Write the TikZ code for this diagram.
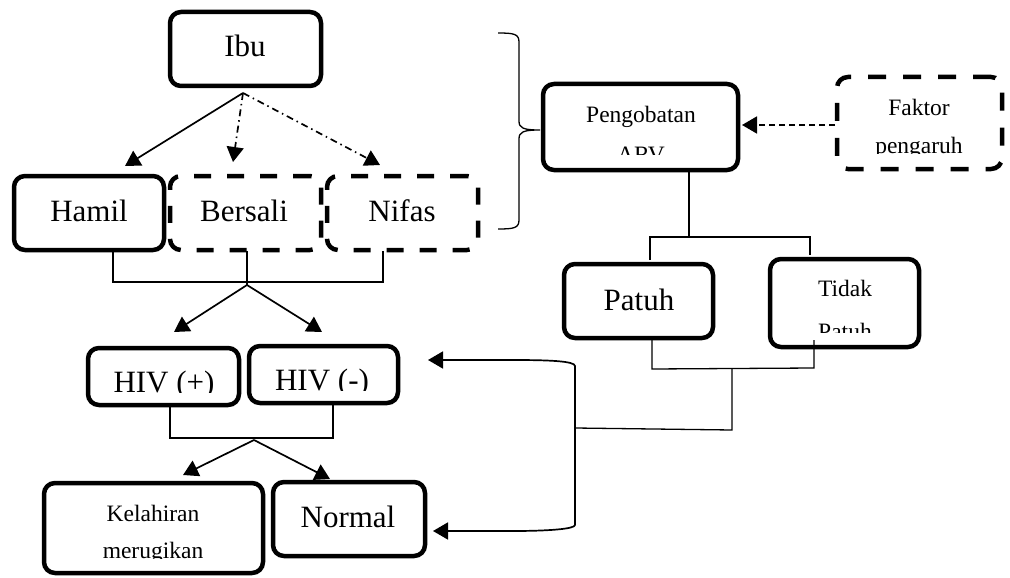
\documentclass[tikz,border=0pt]{standalone}
\usepackage{fontspec}
\setmainfont{Liberation Serif}
\usetikzlibrary{arrows.meta,calc}
\begin{document}
\begin{tikzpicture}[x=1pt,y=-1pt,
  box/.style={draw, line width=4.5pt, rounded corners=11pt, inner sep=0pt},
  dbox/.style={box, dash pattern=on 17pt off 16pt},
  big/.style={font=\fontsize{31}{37}\selectfont, anchor=base, inner sep=0pt},
  small/.style={font=\fontsize{23.5}{28}\selectfont, anchor=base, inner sep=0pt},
  conn/.style={line width=1.3pt},
  tip/.style={},
  arr/.style={line width=1.7pt, -{Triangle[length=15pt,width=17pt]}},
  dd/.style={arr, dash pattern=on 7pt off 4pt on 1.5pt off 4pt},
  dsh/.style={arr, dash pattern=on 6pt off 4pt},
  ]
\useasboundingbox (0,0) rectangle (1010,578);

% boxes
\node[box, minimum width=151pt, minimum height=74pt] (ibu) at (245.5,49) {};
\node[box, minimum width=150pt, minimum height=74pt] (hamil) at (89,213) {};
\node[dbox, minimum width=151pt, minimum height=74pt] (bersali) at (245.5,213) {};
\node[dbox, minimum width=151pt, minimum height=74pt] (nifas) at (402.5,213) {};
\node[box, minimum width=151pt, minimum height=57pt] (hivp) at (163.5,376.5) {};
\node[box, minimum width=149pt, minimum height=57pt] (hivn) at (323.5,374.5) {};
\node[box, minimum width=219pt, minimum height=90pt] (lahir) at (153.5,528) {};
\node[box, minimum width=152pt, minimum height=74pt] (normal) at (349,519) {};
\node[box, minimum width=195pt, minimum height=86pt] (arv) at (640.5,127) {};
\node[dbox, dash pattern=on 18pt off 17pt, minimum width=165pt, minimum height=92pt] (faktor) at (919.5,123) {};
\node[box, minimum width=149pt, minimum height=74pt] (patuh) at (638.5,301) {};
\node[box, minimum width=149pt, minimum height=88pt] (tidak) at (844.5,303) {};

% texts
\node[big] (tibu) at (245,57) {Ibu};
\node[big] (thamil) at (89,221) {Hamil};
\node[big] (tbersali) at (244,221) {Bersali};
\node[big] (tnifas) at (402,221) {Nifas};
\node[big] (tnormal) at (348,527) {Normal};
\node[big] (tpatuh) at (639,310) {Patuh};
\begin{scope}
  \clip (86,346) rectangle (241,392.5);
  \node[big] (thivp) at (164,392) {HIV (+)};
\end{scope}
\begin{scope}
  \clip (247,344) rectangle (400,390.5);
  \node[big] (thivn) at (322,390) {HIV (-)};
\end{scope}
\begin{scope}
  \clip (42,481) rectangle (265,558.5);
  \node[small] (tlahir1) at (153,521) {Kelahiran};
  \node[small] (tlahir2) at (153,558) {merugikan};
\end{scope}
\begin{scope}
  \clip (541,82) rectangle (740,154);
  \node[small] (tarv1) at (641,122) {Pengobatan};
  \node[small] (tarv2) at (641,162) {ARV};
\end{scope}
\begin{scope}
  \clip (835,75) rectangle (1004,153.5);
  \node[small] (tfak1) at (919,115) {Faktor};
  \node[small] (tfak2) at (919,153) {pengaruh};
\end{scope}
\begin{scope}
  \clip (768,257) rectangle (921,332);
  \node[small] (ttidak1) at (845,296) {Tidak};
  \node[small] (ttidak2) at (845,339) {Patuh};
\end{scope}

% coordinates
\coordinate (ibuA) at (243,93);
\coordinate (hamT) at (125,166);
\coordinate (berT) at (233,162);
\coordinate (nifT) at (380,165);
\coordinate (b1a) at (113,251);
\coordinate (b1b) at (113,282);
\coordinate (b1c) at (383,282);
\coordinate (b1d) at (383,251);
\coordinate (b1m) at (247,251);
\coordinate (b1j) at (247,285);
\coordinate (hivpT) at (174,332);
\coordinate (hivnT) at (322,332);
\coordinate (b2a) at (170,405);
\coordinate (b2b) at (170,438);
\coordinate (b2c) at (333,438);
\coordinate (b2d) at (333,403);
\coordinate (b2j) at (254,440);
\coordinate (lahirT) at (183,475);
\coordinate (normT) at (330,479);
\coordinate (faL) at (835,125);
\coordinate (arvR) at (742,125);
\coordinate (b3a) at (689,170);
\coordinate (b3b) at (689,237);
\coordinate (b3l) at (650,237);
\coordinate (b3r) at (810,237);
\coordinate (b3ld) at (650,260);
\coordinate (b3rd) at (810,255);
\coordinate (b4a) at (652,339);
\coordinate (b4b) at (652,369);
\coordinate (b4c) at (814,368);
\coordinate (b4d) at (814,340);
\coordinate (b4m) at (732,369);
\coordinate (b4e) at (732,430);
\coordinate (b4f) at (575,428);
\coordinate (topT) at (428,360);
\coordinate (botT) at (433,531);

% connectors
\draw[arr] (ibuA) -- (hamT);
\draw[dd] (ibuA) -- (berT);
\draw[dd] (ibuA) -- (nifT);
\draw[conn] (b1a) -- (b1b) -- (b1c) -- (b1d);
\draw[conn] (b1m) -- (b1j);
\draw[arr] (b1j) -- (hivpT);
\draw[arr] (b1j) -- (hivnT);
\draw[conn] (b2a) -- (b2b) -- (b2c) -- (b2d);
\draw[arr] (b2j) -- (lahirT);
\draw[arr] (b2j) -- (normT);
\draw[dsh] (faL) -- (arvR);
\draw[conn] (b3a) -- (b3b);
\draw[conn] (b3ld) -- (b3l) -- (b3r) -- (b3rd);
\draw[conn] (b4a) -- (b4b) -- (b4c) -- (b4d);
\draw[conn] (b4m) -- (b4e) -- (b4f);
\draw[line width=1.7pt, {Triangle[length=15pt,width=17pt]}-{Triangle[length=15pt,width=17pt]}]
  (topT) -- (513,360) .. controls (548,360) and (575,361) .. (575,366)
  -- (575,525) .. controls (575,529) and (548,531) .. (513,531) -- (botT);
% brace
\draw[conn] (498,33) .. controls (514,33) and (519,34) .. (519,42) -- (519,121)
  .. controls (519,128) and (523,130) .. (540,130)
  .. controls (523,130) and (519,132) .. (519,139) -- (519,220)
  .. controls (519,228) and (514,229) .. (498,229);
\end{tikzpicture}
\end{document}
